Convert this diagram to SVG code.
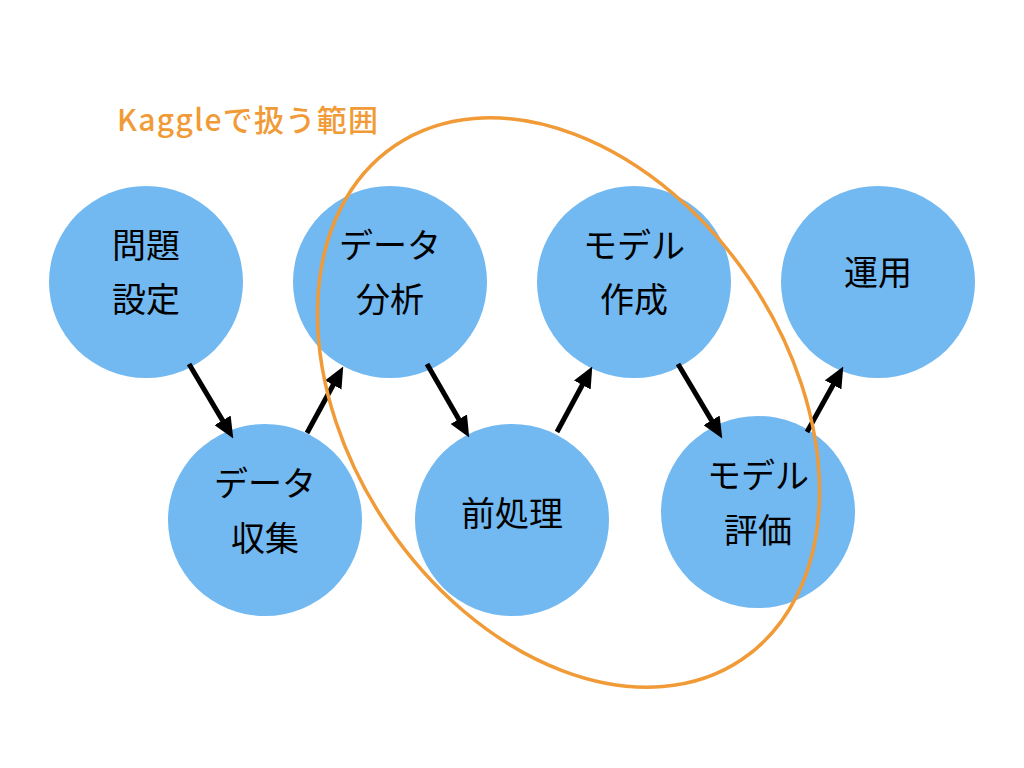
<svg xmlns="http://www.w3.org/2000/svg" width="1024" height="768" viewBox="0 0 1024 768">
<style>
.node{fill:#72B8F1}
.lbl{font-family:"Noto Sans CJK JP","Noto Sans",sans-serif;font-size:34px;fill:#000;text-anchor:middle}
.arr{stroke:#000;stroke-width:5;fill:none;marker-end:url(#ah)}
.scope{fill:none;stroke:#F09B37;stroke-width:3.5}
.scopelbl{font-family:"Noto Sans CJK JP","Noto Sans",sans-serif;font-size:30px;font-weight:500;fill:#F09B37}
</style>
<defs>
<marker id="ah" viewBox="0 0 20 18" refX="10" refY="9" markerWidth="21" markerHeight="19" markerUnits="userSpaceOnUse" orient="auto">
<path d="M0,0 L20,9 L0,18 z" fill="#000"/>
</marker>
</defs>
<rect width="1024" height="768" fill="#fff"/>
<g id="n1"><ellipse class="node" cx="146" cy="282" rx="97" ry="96"/><text class="lbl" x="146" y="258">問題</text><text class="lbl" x="146" y="312">設定</text></g>
<g id="n2"><ellipse class="node" cx="265" cy="520" rx="97" ry="96"/><text class="lbl" x="265" y="496">データ</text><text class="lbl" x="265" y="551">収集</text></g>
<g id="n3"><ellipse class="node" cx="390" cy="282" rx="97" ry="96"/><text class="lbl" x="390" y="258">データ</text><text class="lbl" x="390" y="312">分析</text></g>
<g id="n4"><ellipse class="node" cx="512" cy="520" rx="97" ry="96"/><text class="lbl" x="512" y="526">前処理</text></g>
<g id="n5"><ellipse class="node" cx="634" cy="282" rx="97" ry="96"/><text class="lbl" x="634" y="258">モデル</text><text class="lbl" x="634" y="312">作成</text></g>
<g id="n6"><ellipse class="node" cx="758" cy="512" rx="97" ry="96"/><text class="lbl" x="758" y="488">モデル</text><text class="lbl" x="758" y="543">評価</text></g>
<g id="n7"><ellipse class="node" cx="878" cy="282" rx="97" ry="96"/><text class="lbl" x="878" y="285">運用</text></g>
<g id="connectors">
<line class="arr" x1="189" y1="364" x2="227.9" y2="429.4"/>
<line class="arr" x1="307" y1="433" x2="338.2" y2="375.8"/>
<line class="arr" x1="427" y1="364" x2="464" y2="428.3"/>
<line class="arr" x1="557" y1="432" x2="587.3" y2="375.8"/>
<line class="arr" x1="678" y1="364" x2="716.9" y2="429.4"/>
<line class="arr" x1="807" y1="432" x2="838.2" y2="375.7"/>
</g>
<g id="scope">
<ellipse class="scope" cx="568.5" cy="402.5" rx="310" ry="219" transform="rotate(56 568.5 402.5)"/>
<text class="scopelbl" x="117" y="131" textLength="261" lengthAdjust="spacing">Kaggleで扱う範囲</text>
</g>
</svg>
